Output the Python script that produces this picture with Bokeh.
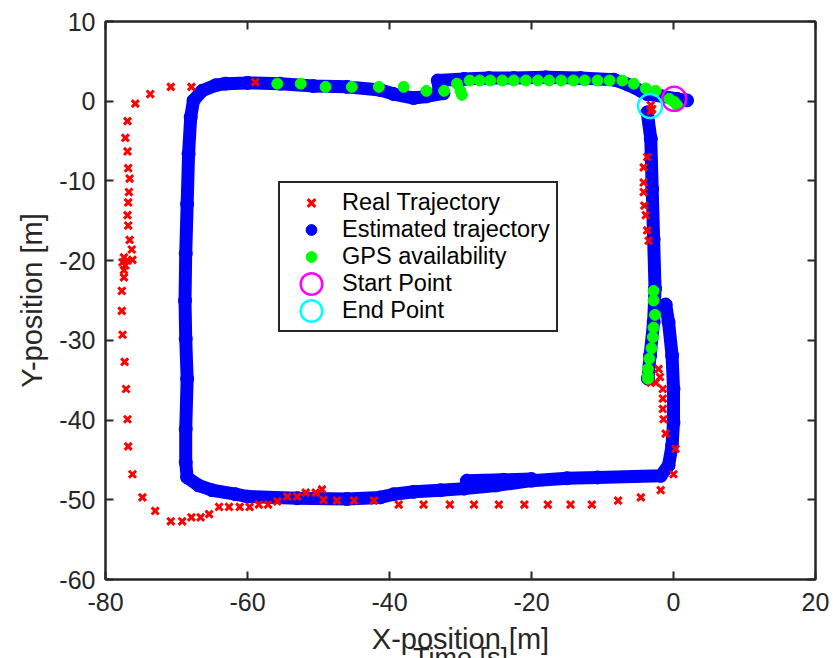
from bokeh.plotting import figure
from bokeh.models import (Range1d, LinearAxis, Legend, LegendItem, FixedTicker,
                          Title, CustomLabelingPolicy)
from bokeh.embed import file_html
from bokeh.resources import INLINE

# ---------------- data ----------------
x_ticks = [-80, -60, -40, -20, 0, 20]
y_ticks = [-60, -50, -40, -30, -20, -10, 0, 10]

# Real trajectory (red x)
real_x = [-58.9, -67.9, -70.8, -73.7, -75.8, -76.9, -77.2, -76.9, -76.8, -76.6,
          -76.7, -76.8, -76.9, -76.8, -76.6, -76.3, -77.4, -76.9, -76.2, -77.6,
          -77.2, -77.4, -77.4, -77.7, -77.7, -77.6, -77.3, -77.1, -76.9, -76.8,
          -76.2, -74.8, -73.0, -70.8, -69.2, -67.9, -66.6, -65.4, -64.0, -62.6,
          -61.1, -59.7, -58.4, -57.1, -55.8, -54.4, -53.0, -51.8, -50.4, -49.5,
          -49.3, -47.4, -45.0, -42.2, -38.7, -35.2, -31.5, -28.1, -24.6, -21.0,
          -17.7, -14.5, -11.5, -7.8, -4.6, -1.8, 0.0, 0.3, -1.1, -1.4,
          -1.5, -1.5, -1.5, -1.9, -2.1, -2.5, -3.2, -3.5, -3.7, -3.9,
          -4.1, -4.2, -4.2, -4.2, -3.7, -3.2, -3.2, -3.0]
real_y = [2.4, 1.8, 1.8, 0.9, -0.3, -2.5, -4.6, -6.3, -8.4, -9.7,
          -11.4, -12.7, -14.3, -15.6, -17.4, -18.6, -19.6, -20.0, -19.9, -20.2,
          -20.6, -21.2, -22.1, -23.8, -26.3, -29.3, -32.7, -36.1, -39.9, -43.3,
          -46.8, -49.7, -51.4, -52.7, -52.7, -52.2, -52.2, -51.8, -50.9, -50.9,
          -50.9, -50.9, -50.6, -50.6, -50.2, -49.6, -49.6, -49.1, -49.1, -48.7,
          -50.0, -50.1, -50.1, -50.1, -50.6, -50.6, -50.6, -50.6, -50.6, -50.6,
          -50.6, -50.6, -50.6, -50.1, -49.7, -48.8, -46.8, -43.6, -41.7, -39.9,
          -38.6, -37.3, -36.1, -34.6, -33.6, -35.3, -35.3, -17.5, -16.2, -14.3,
          -13.1, -11.4, -10.2, -8.3, -7.0, -1.2, -0.5, -1.0]

# Estimated trajectory (blue), three continuous pieces
est_a_x = [1.9, 0.5, -1.5, -3.7, -4.6, -6.5, -8.4, -13.1, -18.0, -22.5, -26.0, -29.5,
           -33.2, -33.0, -32.4, -34.8, -36.6, -39.4, -41.3, -46.0, -50.7, -55.4,
           -60.0, -63.1, -64.5, -66.4, -67.6, -68.0, -68.3, -68.5, -68.7, -68.8,
           -68.7, -68.5, -68.7, -68.7, -68.5, -66.9, -65.0, -61.7, -60.0, -53.0,
           -46.0, -41.3, -39.4, -36.6, -32.8, -29.5, -25.0, -20.0, -15.0, -10.7,
           -1.8, -0.7, -0.2, 0.0, 0.0, -0.2, -0.7, -1.1]
est_a_y = [0.1, 0.3, 0.6, 0.9, 1.3, 2.1, 2.7, 2.9, 3.0, 2.9, 2.9, 2.8,
           2.6, 1.4, 1.0, 0.6, 0.4, 0.9, 1.4, 1.8, 1.9, 2.2,
           2.3, 2.2, 2.0, 1.3, 0.1, -2.0, -6.6, -12.9, -19.1, -25.0,
           -29.8, -34.8, -41.1, -45.3, -47.2, -48.2, -48.8, -49.3, -49.6, -49.8,
           -49.9, -49.7, -49.3, -49.0, -48.8, -48.6, -48.2, -47.6, -47.3, -47.2,
           -47.0, -45.7, -43.2, -40.3, -36.1, -31.9, -27.7, -25.5]
est_b_x = [-29.1, -24.0, -20.0]
est_b_y = [-47.6, -47.5, -47.4]
est_c_x = [-3.6, -3.3, -2.8, -2.6, -2.8, -3.0, -3.2, -3.7]
est_c_y = [-34.8, -31.9, -27.7, -23.5, -17.3, -11.0, -4.7, -1.4]

# GPS availability (green)
gps_x = [-55.8, -52.5, -49.0, -45.3, -41.5, -38.0, -34.8, -32.3, -30.5, -30.0,
         -29.8, -28.7, -27.3, -25.8, -24.1, -22.5, -20.8, -19.1, -17.5, -15.8,
         -14.1, -12.5, -10.7, -9.0, -7.2, -5.6, -3.9, -2.5, -0.6, 0.1, 0.5,
         -2.8, -2.8, -2.6, -2.8, -2.9, -3.1, -3.4, -3.6, -3.6, -3.6]
gps_y = [2.2, 2.2, 1.8, 1.8, 1.8, 1.8, 1.3, 1.3, 2.2, 1.3,
         0.8, 2.6, 2.6, 2.6, 2.6, 2.6, 2.6, 2.6, 2.6, 2.6,
         2.6, 2.6, 2.6, 2.6, 2.6, 2.2, 1.6, 1.3, 0.3, -0.1, -0.5,
         -23.8, -25.0, -26.8, -28.4, -29.6, -31.0, -32.3, -33.6, -34.4, -34.8]

start_x = [0.1]
start_y = [0.3]
end_x = [-3.3]
end_y = [-0.6]

labels = ["Real Trajectory", "Estimated trajectory", "GPS availability",
          "Start Point", "End Point"]
# ----------------------------------------------------------------

AX = "#262626"
FONT = "Liberation Sans"

p = figure(frame_width=710, frame_height=558,
           x_range=Range1d(-80, 20), y_range=Range1d(-60, 10),
           output_backend="svg", toolbar_location=None,
           min_border_left=105, min_border_right=16,
           min_border_top=16, min_border_bottom=84,
           background_fill_color="white", border_fill_color="white")
p.xgrid.visible = False
p.ygrid.visible = False
p.outline_line_color = AX
p.outline_line_width = 2

no_labels = CustomLabelingPolicy(code="""
for (const i of indices) indices.unset(i)
return indices
""")
p.add_layout(LinearAxis(major_label_policy=no_labels), "above")
p.add_layout(LinearAxis(major_label_policy=no_labels), "right")

for ax in p.xaxis:
    ax.ticker = FixedTicker(ticks=x_ticks)
    ax.major_label_overrides = {t: str(t) for t in x_ticks}
for ax in p.yaxis:
    ax.ticker = FixedTicker(ticks=y_ticks)
    ax.major_label_overrides = {t: str(t) for t in y_ticks}

for ax in p.xaxis + p.yaxis:
    ax.axis_line_color = AX
    ax.axis_line_width = 2
    ax.major_tick_in = 8
    ax.major_tick_out = 0
    ax.major_tick_line_width = 2
    ax.major_tick_line_color = AX
    ax.minor_tick_line_color = None
    ax.major_label_text_font = FONT
    ax.major_label_text_font_size = "25px"
    ax.major_label_text_color = AX
    ax.axis_label_text_font = FONT
    ax.axis_label_text_font_size = "29px"
    ax.axis_label_text_font_style = "normal"
    ax.axis_label_text_color = AX

p.above[0].major_label_standoff = 0
p.right[0].major_label_standoff = 0

p.below[0].axis_label = "X-position [m]"
p.below[0].major_label_standoff = 13
p.below[0].axis_label_standoff = 9
p.left[0].axis_label = "Y-position [m]"
p.left[0].major_label_standoff = 10
p.left[0].axis_label_standoff = 8

# estimated trajectory band
p.multi_line(xs=[est_a_x, est_b_x, est_c_x], ys=[est_a_y, est_b_y, est_c_y],
             line_color="#0000FF", line_width=13,
             line_join="round", line_cap="round")
r_est = p.scatter(est_a_x + est_b_x + est_c_x, est_a_y + est_b_y + est_c_y,
                  marker="circle", size=13,
                  fill_color="#0000FF", line_color="#0000FF")
r_real = p.scatter(real_x, real_y, marker="x", size=10,
                   line_color="#FF0000", line_width=3)
r_gps = p.scatter(gps_x, gps_y, marker="circle", size=11,
                  fill_color="#00FF00", line_color="#00FF00")
r_start = p.ellipse(x=start_x, y=start_y, width=24, height=24,
                    width_units="screen", height_units="screen",
                    fill_color=None, line_color="#FF00FF", line_width=2.5)
r_end = p.ellipse(x=end_x, y=end_y, width=24, height=24,
                  width_units="screen", height_units="screen",
                  fill_color=None, line_color="#00FFFF", line_width=2.5)

legend = Legend(items=[LegendItem(label=labels[0], renderers=[r_real]),
                       LegendItem(label=labels[1], renderers=[r_est]),
                       LegendItem(label=labels[2], renderers=[r_gps]),
                       LegendItem(label=labels[3], renderers=[r_start]),
                       LegendItem(label=labels[4], renderers=[r_end])],
                location=(173, 247),
                glyph_width=50, glyph_height=27, spacing=0,
                padding=6, margin=0, label_standoff=6,
                label_text_font=FONT, label_text_font_size="23.5px",
                label_text_color="black",
                border_line_color=AX, border_line_width=2, border_line_alpha=1,
                background_fill_color="white", background_fill_alpha=1)
p.add_layout(legend)

# leftover label that the reference shows cut by the bottom edge
ghost = Title(text="Time [s]", align="center", vertical_align="middle",
              standoff=-33, text_font=FONT, text_font_size="27px",
              text_font_style="normal", text_color=AX)
p.add_layout(ghost, "below")

open("out.html", "w").write(file_html(p, INLINE))
